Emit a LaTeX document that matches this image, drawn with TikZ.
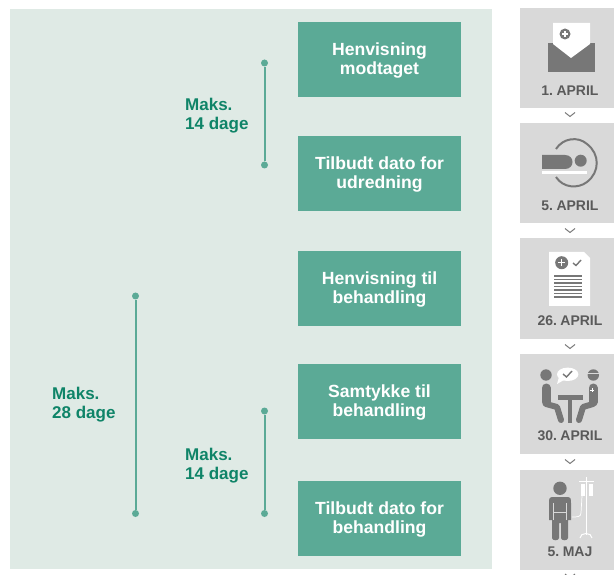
\documentclass[tikz,border=0pt]{standalone}
\usepackage{fontspec}
\setmainfont{Liberation Sans}
\newfontfamily\datefont{Liberation Sans}[WordSpace=0.55]
\usepackage{xcolor}
\usetikzlibrary{positioning}
\definecolor{panelgreen}{HTML}{DFEAE5}
\definecolor{boxgreen}{HTML}{5BAA96}
\definecolor{textgreen}{HTML}{0F8468}
\definecolor{dategray}{HTML}{D9D9D9}
\definecolor{icongray}{HTML}{777777}
\definecolor{inkgray}{HTML}{5A5A5A}

\begin{document}
\begin{tikzpicture}[x=1pt,y=-1pt,
    panel/.style={fill=panelgreen,minimum width=482pt,minimum height=560pt,inner sep=0pt},
    stepbox/.style={fill=boxgreen,minimum width=163pt,minimum height=75pt,inner sep=0pt},
    steplabel/.style={text=white,align=center,yshift=-1pt,inner sep=0pt,
      font=\fontsize{17.6}{19.5}\selectfont\bfseries},
    span/.style={draw=boxgreen,line width=2pt},
    spandot/.style={circle,fill=boxgreen,minimum size=7pt,inner sep=0pt},
    maks/.style={text=textgreen,align=left,anchor=west,inner sep=0pt,
      font=\fontsize{17}{19.5}\selectfont\bfseries},
    datebox/.style={fill=dategray,minimum width=94pt,minimum height=100pt,inner sep=0pt},
    datetext/.style={text=inkgray,inner sep=0pt,font=\datefont\fontsize{14}{15}\selectfont\bfseries},
    chevron/.style={draw=icongray,line width=1pt},
    ink/.style={fill=icongray,draw=none},
    limb/.style={draw=icongray,line width=6pt,line cap=round,line join=round}]
  \useasboundingbox (0,0) rectangle (614,575);
  \node[panel] (P) at (251,289) {};

  % steps
  \node[stepbox,label={[steplabel]center:Henvisning\\modtaget}] (S1) at (379.5,59.5) {};
  \node[stepbox,label={[steplabel]center:Tilbudt dato for\\udredning}] (S2) at (379.5,173.5) {};
  \node[stepbox,label={[steplabel]center:Henvisning til\\behandling}] (S3) at (379.5,288.5) {};
  \node[stepbox,label={[steplabel]center:Samtykke til\\behandling}] (S4) at (379.5,401.5) {};
  \node[stepbox,label={[steplabel]center:Tilbudt dato for\\behandling}] (S5) at (379.5,518.5) {};

  % spans
  \node[spandot] (A1) at (264.5,63) {};
  \node[spandot] (A2) at (264.5,165) {};
  \node[spandot] (B1) at (135.5,296) {};
  \node[spandot] (B2) at (135.5,513.5) {};
  \node[spandot] (C1) at (264.5,411) {};
  \node[spandot] (C2) at (264.5,513.5) {};
  \draw[span] (A1) -- (A2);
  \draw[span] (B1) -- (B2);
  \draw[span] (C1) -- (C2);
  \node[maks] (M1) at (185,115.5) {Maks.\\14 dage};
  \node[maks] (M2) at (52,404.5) {Maks.\\28 dage};
  \node[maks] (M3) at (185,465.5) {Maks.\\14 dage};

  % dates
  \foreach \name/\yc/\ytext/\txt in {D1/58/91/1. APRIL,D2/173.5/206/5. APRIL,D3/288.5/321/26. APRIL,D4/404/436/30. APRIL,D5/520/552/5. MAJ}{
    \node[datebox] (\name) at (567,\yc) {};
    \node[datetext] (\name t) at (570,\ytext) {\txt};
  }
  \foreach \yc in {115,231,347,462,576.5}
    \draw[chevron] (565,\yc-2.5) -- (570,\yc+1.5) -- (575,\yc-2.5);

  % envelope
  \fill[ink] (548,43) -- (595,43) -- (595,72) -- (548,72) -- cycle;
  \fill[white] (553,23) -- (590,23) -- (590,44) -- (571,58) -- (553,44) -- cycle;
  \fill[icongray] (565,34) circle[radius=5.5pt];
  \draw[white,line width=1.4pt] (562,34) -- (568,34) (565,31) -- (565,37);

  % bed
  \draw[icongray,line width=2pt] (556,149) .. controls (563,138) and (578,136) .. (587,144)
    .. controls (600,154) and (600,172) .. (587,182) .. controls (578,189) and (563,188) .. (556,177);
  \fill[ink] (542,155) -- (565,155) .. controls (575,155) and (575,169) .. (565,169) -- (542,169) -- cycle;
  \fill[icongray] (580.7,160.7) circle[radius=6pt];
  \fill[white] (542,171) rectangle (587,174);

  % document
  \fill[white] (549,252) -- (584,252) -- (590,258) -- (590,306) -- (549,306) -- cycle;
  \fill[icongray] (561.7,262.7) circle[radius=6.5pt];
  \draw[white,line width=1.4pt] (558,262.7) -- (565.4,262.7) (561.7,259) -- (561.7,266.4);
  \draw[icongray,line width=1.4pt] (573,263) -- (576,265.5) -- (581,260);
  \foreach \yl in {276,279.5,283,286.5,290,293.5,297}
    \draw[icongray,line width=1.3pt] (554,\yl) -- (582,\yl);

  % meeting
  \fill[icongray] (546,375) circle[radius=5.7pt];
  \fill[icongray] (593.3,375) circle[radius=5.7pt];
  \fill[dategray] (587,372.5) rectangle (600,373.5);
  \fill[white] (567.7,374.3) ellipse[x radius=10.7pt,y radius=6.7pt];
  \fill[white] (559,377) -- (557,384) -- (564,380) -- cycle;
  \draw[icongray,line width=1.4pt] (563,374) -- (566.5,377) -- (572,371);
  \fill[ink] (557.7,395) rectangle (583,400);
  \fill[ink] (568,400) rectangle (572,423);
  \draw[limb,line width=9pt] (546,388) -- (546,402);
  \draw[limb] (546,404) -- (557,407) -- (561,420);
  \draw[limb,line width=9pt] (593,388) -- (593,402);
  \draw[limb] (593,404) -- (583,407) -- (579,420);
  \draw[white,line width=.8pt] (590,390) -- (594,390) (592,388) -- (592,392);

  % drip
  \fill[icongray] (560,488.3) circle[radius=6.7pt];
  \fill[ink] (553,497) -- (567,497) .. controls (571,497) and (571,499) .. (571,503)
    -- (571,520) -- (568,520) -- (568,538) .. controls (568,541) and (561,541) .. (561,538) -- (561,523) -- (559,523) -- (559,538)
    .. controls (559,541) and (552,541) .. (552,538)
    -- (552,520) -- (549,520) -- (549,503) .. controls (549,499) and (549,497) .. (553,497) -- cycle;
  \draw[dategray,line width=.8pt] (553,512) -- (567,512);
  \draw[dategray,line width=.6pt] (553.5,503) -- (553.5,520) (566.5,503) -- (566.5,520);
  \draw[white,line width=1pt] (586,477) -- (586,535);
  \draw[white,line width=1pt] (579,481) -- (594,481);
  \draw[white,line width=1pt] (580,538) .. controls (580,532) and (592,532) .. (592,538);
  \fill[white] (581,484) rectangle (585,496);
  \fill[white] (589,484) rectangle (593,496);
  \draw[white,line width=.7pt] (582,496) -- (581,513) .. controls (581,517) and (577,517) .. (572,517);
\end{tikzpicture}
\end{document}
